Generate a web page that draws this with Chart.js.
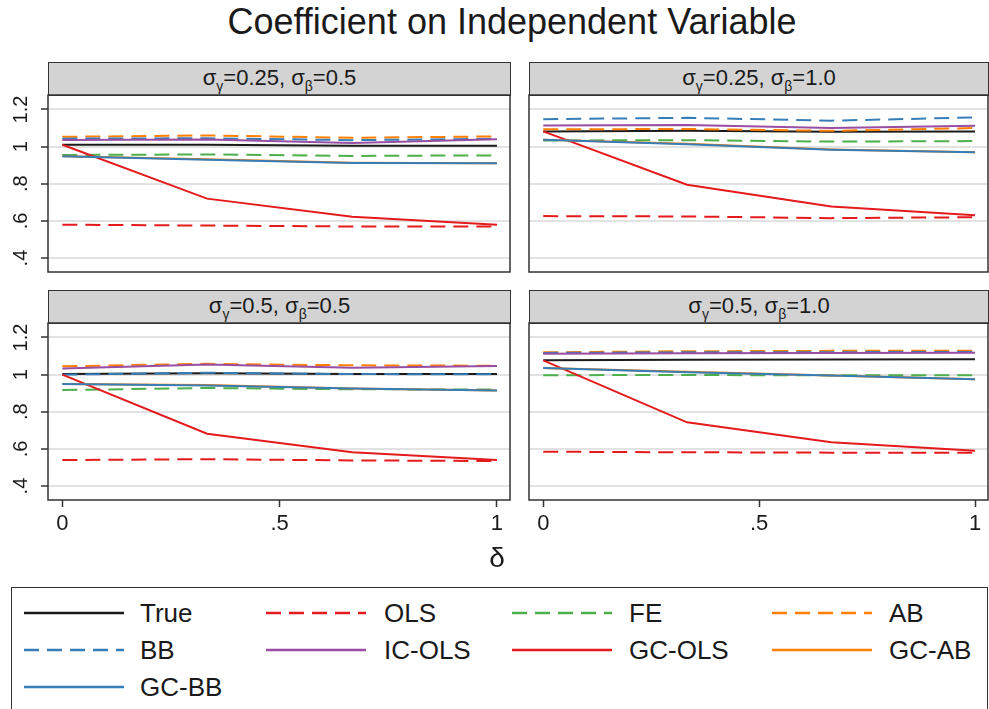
<!DOCTYPE html>
<html>
<head>
<meta charset="utf-8">
<script src="https://cdn.jsdelivr.net/npm/chart.js@4.4.0/dist/chart.umd.min.js"></script>
<style>
  body { margin:0; width:989px; height:709px; background:#fff; position:relative; overflow:hidden;
         font-family:"Liberation Sans", Arial, sans-serif; color:#1a1a1a; }
  .title { position:absolute; left:12px; top:1px; width:1000px; text-align:center; font-size:36px; white-space:nowrap; }
  .strip { position:absolute; height:34px; background:#d3d3d4; border:1.5px solid #333; box-sizing:border-box;
           text-align:center; font-size:22px; line-height:29px; }
  .strip sub { font-size:14px; vertical-align:-6px; line-height:0; }
  canvas { position:absolute; }
  .xlab { position:absolute; left:0; width:994px; top:542px; text-align:center; font-size:28px; }
  .legend { position:absolute; left:11px; top:587px; width:977px; height:140px; border:1.5px solid #333; box-sizing:border-box; }
  .item { position:absolute; font-size:26px; line-height:30px; }
  .item svg { position:absolute; }
</style>
</head>
<body>
<div class="title">Coefficient on Independent Variable</div>

<div class="strip" style="left:48px;top:62px;width:463px;">σ<sub>γ</sub>=0.25, σ<sub>β</sub>=0.5</div>
<div class="strip" style="left:529px;top:62px;width:460px;">σ<sub>γ</sub>=0.25, σ<sub>β</sub>=1.0</div>
<div class="strip" style="left:48px;top:290px;width:463px;">σ<sub>γ</sub>=0.5, σ<sub>β</sub>=0.5</div>
<div class="strip" style="left:529px;top:290px;width:460px;">σ<sub>γ</sub>=0.5, σ<sub>β</sub>=1.0</div>

<canvas id="p1" width="512" height="179" style="left:0;top:94px;"></canvas>
<canvas id="p2" width="462" height="179" style="left:527px;top:94px;"></canvas>
<canvas id="p3" width="512" height="223" style="left:0;top:322px;"></canvas>
<canvas id="p4" width="462" height="223" style="left:527px;top:322px;"></canvas>

<div class="xlab">δ</div>
<div class="legend" id="legend"></div>

<script>
// delta values on the x axis
const delta = [0, 0.333, 0.667, 1];
const xTicks = [0, 0.5, 1];
const xTickLabels = ['0', '.5', '1'];
const yTicks = [0.4, 0.6, 0.8, 1.0, 1.2];
const yTickLabels = ['.4', '.6', '.8', '1', '1.2'];

const seriesNames = ['True', 'OLS', 'FE', 'AB', 'BB', 'IC-OLS', 'GC-OLS', 'GC-AB', 'GC-BB'];

// one row per series, same order as seriesNames
const panelA = [ // sigma_gamma=0.25, sigma_beta=0.5
  [1.01, 1.01, 1.005, 1.005],
  [0.58, 0.575, 0.57, 0.57],
  [0.955, 0.958, 0.95, 0.953],
  [1.053, 1.06, 1.048, 1.055],
  [1.043, 1.045, 1.035, 1.042],
  [1.036, 1.038, 1.02, 1.04],
  [1.01, 0.72, 0.623, 0.58],
  [0.948, 0.932, 0.913, 0.91],
  [0.948, 0.93, 0.912, 0.91]
];
const panelB = [ // sigma_gamma=0.25, sigma_beta=1.0
  [1.082, 1.085, 1.08, 1.082],
  [0.626, 0.624, 0.615, 0.62],
  [1.033, 1.035, 1.027, 1.03],
  [1.093, 1.095, 1.085, 1.1],
  [1.148, 1.155, 1.14, 1.157],
  [1.114, 1.117, 1.1, 1.112],
  [1.082, 0.795, 0.678, 0.63],
  [1.037, 1.015, 0.985, 0.97],
  [1.037, 1.013, 0.983, 0.97]
];
const panelC = [ // sigma_gamma=0.5, sigma_beta=0.5
  [1.003, 1.008, 1.003, 1.003],
  [0.54, 0.545, 0.538, 0.535],
  [0.917, 0.928, 0.921, 0.92],
  [1.045, 1.058, 1.05, 1.048],
  [1.0, 1.01, 1.003, 1.002],
  [1.033, 1.055, 1.037, 1.046],
  [1.0, 0.682, 0.582, 0.54],
  [0.95, 0.944, 0.926, 0.915],
  [0.95, 0.942, 0.925, 0.915]
];
const panelD = [ // sigma_gamma=0.5, sigma_beta=1.0
  [1.077, 1.08, 1.082, 1.083],
  [0.585, 0.582, 0.58, 0.58],
  [0.997, 0.998, 0.996, 0.997],
  [1.12, 1.126, 1.128, 1.129],
  [1.117, 1.12, 1.121, 1.122],
  [1.112, 1.115, 1.116, 1.118],
  [1.077, 0.743, 0.636, 0.59],
  [1.036, 1.015, 0.996, 0.975],
  [1.036, 1.013, 0.995, 0.975]
];

const colors = ['#1a1a1a', '#e41a1c', '#4daf4a', '#ff7f00', '#377eb8', '#984ea3', '#e41a1c', '#ff7f00', '#377eb8'];
const dashed = [false, true, true, true, true, false, false, false, false];
const DASH = [15, 8];

// draws the dark box around the plot region
const framePlugin = {
  id: 'frame',
  afterDraw(chart) {
    const { ctx, chartArea: a } = chart;
    ctx.save();
    ctx.strokeStyle = '#333';
    ctx.lineWidth = 1.5;
    ctx.strokeRect(a.left, a.top, a.right - a.left, a.bottom - a.top);
    ctx.restore();
  }
};

function makePanel(id, rows, left, bottom) {
  const datasets = rows.map((vals, i) => ({
    label: seriesNames[i],
    data: vals.map((v, j) => ({ x: delta[j], y: v })),
    borderColor: colors[i],
    borderWidth: 2,
    borderDash: dashed[i] ? DASH : [],
    pointRadius: 0,
    tension: 0,
    fill: false,
    order: seriesNames.length - i
  }));
  return new Chart(document.getElementById(id), {
    type: 'line',
    data: { datasets: datasets },
    options: {
      responsive: false,
      animation: false,
      events: [],
      layout: { padding: { top: 1, bottom: bottom ? 0 : 1, left: left ? 0 : 2, right: left ? 2 : 1 } },
      plugins: { legend: { display: false }, tooltip: { enabled: false } },
      scales: {
        x: {
          type: 'linear',
          min: -0.033,
          max: 1.03,
          display: bottom,
          afterBuildTicks: s => { s.ticks = xTicks.map(v => ({ value: v })); },
          afterFit: s => {
            s.height = bottom ? 45 : 0;
            s.paddingLeft = 0; s.paddingRight = 0;
          },
          grid: { drawOnChartArea: false, drawTicks: true, tickLength: 7, tickColor: '#333', tickWidth: 1.5 },
          border: { display: false },
          ticks: {
            padding: 4,
            color: '#1a1a1a',
            font: { family: 'Liberation Sans', size: 22 },
            maxRotation: 0,
            callback: (v) => xTickLabels[xTicks.indexOf(v)]
          }
        },
        y: {
          type: 'linear',
          min: 0.325,
          max: 1.278,
          afterBuildTicks: s => { s.ticks = yTicks.map(v => ({ value: v })); },
          afterFit: s => {
            s.width = left ? 48 : 0;
            s.paddingTop = 0; s.paddingBottom = 0;
          },
          grid: { color: '#e2e2e2', lineWidth: 2, drawTicks: left, tickLength: 7, tickColor: '#333', tickWidth: 1.5 },
          border: { display: false },
          ticks: {
            display: left,
            minRotation: 90,
            maxRotation: 90,
            crossAlign: 'center',
            padding: 6,
            color: '#1a1a1a',
            font: { family: 'Liberation Sans', size: 20 },
            callback: (v) => yTickLabels[yTicks.indexOf(v)]
          }
        }
      }
    },
    plugins: [framePlugin]
  });
}

makePanel('p1', panelA, true, false);
makePanel('p2', panelB, false, false);
makePanel('p3', panelC, true, true);
makePanel('p4', panelD, false, true);

// legend: 4 columns, row by row
const lineX = [23, 265, 511, 771];
const textX = [139, 383, 628, 888];
const rowY = [612, 649, 686];
const legend = document.getElementById('legend');
seriesNames.forEach((name, i) => {
  const col = i % 4, row = Math.floor(i / 4);
  const item = document.createElement('div');
  item.className = 'item';
  item.style.left = (lineX[col] - 11) + 'px';
  item.style.top = (rowY[row] - 587 - 15) + 'px';
  item.style.width = '260px';
  item.style.height = '30px';
  const dash = dashed[i] ? ' stroke-dasharray="' + DASH.join(' ') + '"' : '';
  item.innerHTML = '<svg width="100" height="30" style="left:0;top:0"><line x1="0" y1="15" x2="100" y2="15" stroke="' +
    colors[i] + '" stroke-width="2.5"' + dash + '/></svg>' +
    '<span style="position:absolute;left:' + (textX[col] - lineX[col]) + 'px;top:0">' + name + '</span>';
  legend.appendChild(item);
});
</script>
</body>
</html>
